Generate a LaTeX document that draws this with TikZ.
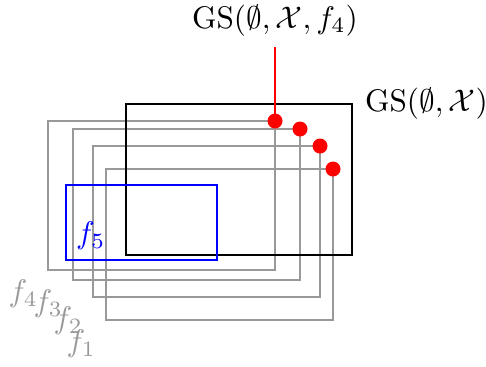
\documentclass[tikz,border=0pt]{standalone}
\usepackage{amsmath,amssymb}
\usepackage{tikz}
\usetikzlibrary{positioning}
\definecolor{frameline}{HTML}{999999}
\definecolor{framelabel}{HTML}{999999}

\begin{document}
\begin{tikzpicture}[
  x=0.32pt,y=-0.32pt,
  frame/.style={draw=frameline,line width=0.35pt},
  gsbox/.style={draw=black,line width=0.75pt},
  fivebox/.style={draw=blue,line width=0.75pt},
  flabel/.style={text=framelabel,below left,inner sep=3pt},
  dot/.style={circle,fill=red,inner sep=0pt,minimum size=4.8pt},
  pointer/.style={red,line width=0.4pt}
]
\useasboundingbox (0,0) rectangle (486,366);

% the four shifted frames
\coordinate (f4a) at (48,121);  \coordinate (f4b) at (275,270);
\coordinate (f3a) at (73,129);  \coordinate (f3b) at (300,280);
\coordinate (f2a) at (93,146);  \coordinate (f2b) at (320,297);
\coordinate (f1a) at (106,169); \coordinate (f1b) at (333,320);
\draw[frame] (f4a) rectangle (f4b);
\draw[frame] (f3a) rectangle (f3b);
\draw[frame] (f2a) rectangle (f2b);
\draw[frame] (f1a) rectangle (f1b);

\node[flabel] (l4) at (f4a |- f4b) {$f_4$};
\node[flabel] (l3) at (f3a |- f3b) {$f_3$};
\node[flabel] (l2) at (f2a |- f2b) {$f_2$};
\node[flabel] (l1) at (f1a |- f1b) {$f_1$};

% GS box and f5 box
\coordinate (gsa) at (126,104); \coordinate (gsb) at (352,255);
\draw[gsbox] (gsa) rectangle (gsb);
\node[right,inner sep=4pt] (gs) at (gsb |- gsa) {$\mathrm{GS}(\emptyset,\mathcal{X})$};

\coordinate (f5a) at (66,185); \coordinate (f5b) at (217,260);
\draw[fivebox] (f5a) rectangle (f5b);
\node[above right,text=blue,inner sep=3pt] (l5) at (f5a |- f5b) {$f_5$};

% corner dots
\node[dot] (d4) at (f4b |- f4a) {};
\node[dot] (d3) at (f3b |- f3a) {};
\node[dot] (d2) at (f2b |- f2a) {};
\node[dot] (d1) at (f1b |- f1a) {};

\node[above=74*0.32pt of d4.center,anchor=south] (gsf) {$\mathrm{GS}(\emptyset,\mathcal{X},f_4)$};
\draw[pointer] (d4.center) -- (gsf.south);
\end{tikzpicture}
\end{document}
